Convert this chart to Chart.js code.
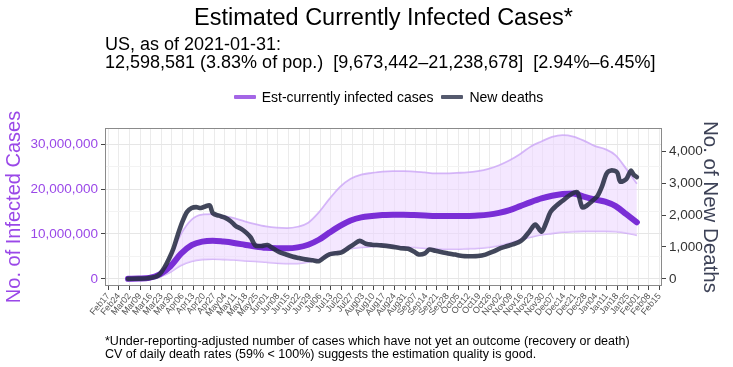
<!DOCTYPE html>
<html>
<head>
<meta charset="utf-8">
<script src="https://cdn.jsdelivr.net/npm/chart.js"></script>
<style>
  html, body { margin: 0; padding: 0; background: #fff; }
  body { width: 733px; height: 367px; position: relative; overflow: hidden; font-family: "Liberation Sans", Arial, sans-serif; color: #000; }
  #chart { position: absolute; left: 0; top: 0; }
  .txt { position: absolute; white-space: pre; }
  #title { left: 0; width: 767px; top: 4px; text-align: center; font-size: 23.5px; line-height: 26px; }
  #sub { left: 105px; top: 35px; font-size: 18px; line-height: 18px; }
  #legend { left: 0; width: 777px; top: 89px; text-align: center; font-size: 14px; line-height: 16px; }
  #legend .key { display: inline-block; width: 22px; height: 4px; vertical-align: middle; margin: 0 6px 2px 0; border-radius: 1px; }
  #foot { left: 105px; top: 335px; font-size: 12.5px; line-height: 13px; }
</style>
</head>
<body>
<canvas id="chart" width="733" height="367"></canvas>
<div class="txt" id="title">Estimated Currently Infected Cases*</div>
<div class="txt" id="sub">US, as of 2021-01-31:
12,598,581 (3.83% of pop.)  [9,673,442–21,238,678]  [2.94%–6.45%]</div>
<div class="txt" id="legend"><span class="key" style="background:#a466e6"></span>Est-currently infected cases  <span class="key" style="background:#555a6e"></span>New deaths</div>
<div class="txt" id="foot">*Under-reporting-adjusted number of cases which have not yet an outcome (recovery or death)
CV of daily death rates (59% &lt; 100%) suggests the estimation quality is good.</div>
<script>
// weekly tick labels, Feb17 2020 .. Feb15 2021
const weekLabels = ['Feb17','Feb24','Mar02','Mar09','Mar16','Mar23','Mar30','Apr06','Apr13','Apr20','Apr27',
  'May04','May11','May18','May25','Jun01','Jun08','Jun15','Jun22','Jun29','Jul06','Jul13','Jul20','Jul27',
  'Aug03','Aug10','Aug17','Aug24','Aug31','Sep07','Sep14','Sep21','Sep28','Oct05','Oct12','Oct19','Oct26',
  'Nov02','Nov09','Nov16','Nov23','Nov30','Dec07','Dec14','Dec21','Dec28','Jan04','Jan11','Jan18','Jan25',
  'Feb01','Feb08','Feb15'];

// estimated currently infected (millions), weekly
const estDates = ['2020-03-01','2020-03-08','2020-03-15','2020-03-22','2020-03-29','2020-04-05','2020-04-12','2020-04-19','2020-04-26',
  '2020-05-03','2020-05-10','2020-05-17','2020-05-24','2020-05-31','2020-06-07','2020-06-14','2020-06-21','2020-06-28',
  '2020-07-05','2020-07-12','2020-07-19','2020-07-26','2020-08-02','2020-08-09','2020-08-16','2020-08-23','2020-08-30',
  '2020-09-06','2020-09-13','2020-09-20','2020-09-27','2020-10-04','2020-10-11','2020-10-18','2020-10-25',
  '2020-11-01','2020-11-08','2020-11-15','2020-11-22','2020-11-29','2020-12-06','2020-12-13','2020-12-20','2020-12-27',
  '2021-01-03','2021-01-10','2021-01-17','2021-01-24','2021-01-31'];
const estCases = [0, 0.05, 0.2, 1.0, 2.8, 5.6, 7.5, 8.3, 8.5,
  8.3, 8.0, 7.6, 7.2, 6.9, 6.8, 6.8, 7.0, 7.6,
  8.7, 10.3, 11.8, 13.0, 13.7, 14.0, 14.2, 14.3, 14.3,
  14.2, 14.1, 14.0, 14.0, 14.0, 14.0, 14.1, 14.3,
  14.7, 15.3, 16.2, 17.1, 17.9, 18.5, 18.9, 19.0, 18.3,
  17.7, 17.2, 16.2, 14.4, 12.6];
const estLower = [0, 0.02, 0.1, 0.5, 1.5, 3.0, 3.9, 4.3, 4.4,
  4.3, 4.2, 4.0, 3.9, 3.7, 3.5, 3.4, 3.4, 3.7,
  4.3, 5.2, 6.0, 6.7, 7.0, 7.2, 7.3, 7.2, 7.1,
  7.0, 6.8, 6.7, 6.6, 6.6, 6.7, 6.8, 7.0,
  7.4, 8.0, 8.7, 9.3, 9.8, 10.1, 10.4, 10.5, 10.6,
  10.6, 10.6, 10.5, 10.2, 9.7];
const estUpper = [0, 0.05, 0.3, 1.5, 5.0, 10.0, 13.2, 14.3, 14.4,
  14.0, 13.5, 12.8, 12.2, 11.7, 11.4, 11.3, 11.6, 12.5,
  14.8, 17.8, 20.5, 22.3, 23.2, 23.6, 23.9, 24.0, 24.0,
  23.9, 23.7, 23.5, 23.5, 23.6, 23.7, 24.0, 24.5,
  25.3, 26.4, 27.8, 29.5, 30.6, 31.6, 32.0, 31.7, 30.8,
  29.6, 28.9, 27.5, 24.5, 21.2];

// new deaths (daily, smoothed)
const deathDates = ['2020-03-01','2020-03-08','2020-03-14','2020-03-19','2020-03-22','2020-03-25','2020-03-28','2020-03-31',
  '2020-04-03','2020-04-06','2020-04-09','2020-04-12','2020-04-15','2020-04-18','2020-04-21','2020-04-24','2020-04-26','2020-04-30',
  '2020-05-04','2020-05-08','2020-05-11','2020-05-15','2020-05-18','2020-05-21','2020-05-24','2020-05-28',
  '2020-06-01','2020-06-05','2020-06-09','2020-06-13','2020-06-18','2020-06-22','2020-06-26',
  '2020-07-01','2020-07-05','2020-07-08','2020-07-12','2020-07-16','2020-07-20','2020-07-24','2020-07-28',
  '2020-08-01','2020-08-05','2020-08-09','2020-08-15','2020-08-22','2020-08-28',
  '2020-09-02','2020-09-06','2020-09-09','2020-09-13','2020-09-16','2020-09-20','2020-09-27',
  '2020-10-03','2020-10-08','2020-10-13','2020-10-18','2020-10-23','2020-10-28',
  '2020-11-02','2020-11-06','2020-11-10','2020-11-14','2020-11-17','2020-11-21','2020-11-25','2020-11-29',
  '2020-12-02','2020-12-05','2020-12-09','2020-12-13','2020-12-17','2020-12-21','2020-12-23','2020-12-26','2020-12-29',
  '2021-01-01','2021-01-05','2021-01-08','2021-01-11','2021-01-14','2021-01-18','2021-01-20','2021-01-24','2021-01-27','2021-01-29','2021-01-31'];
const deaths = [0, 5, 20, 60, 150, 350, 620, 950,
  1400, 1800, 2100, 2220, 2250, 2220, 2270, 2300, 2060, 1980,
  1920, 1800, 1660, 1560, 1450, 1300, 1050, 1030,
  1060, 950, 840, 770, 690, 650, 610,
  580, 555, 650, 770, 800, 830, 950, 1080,
  1190, 1100, 1070, 1050, 1010, 960,
  945, 850, 765, 800, 920, 880, 810,
  760, 715, 710, 715, 760, 850,
  960, 1020, 1080, 1150, 1250, 1480, 1700, 1480,
  1750, 2100, 2300, 2450, 2600, 2710, 2700, 2240, 2300,
  2420, 2600, 2900, 3300, 3400, 3340, 3050, 3130, 3390, 3260, 3190];

const DAY0 = Date.UTC(2020, 1, 17);
const toDay = (s) => {
  const p = s.split('-').map(Number);
  return (Date.UTC(p[0], p[1] - 1, p[2]) - DAY0) / 864e5;
};
const pts = (dates, vals, k) => dates.map((d, i) => ({ x: toDay(d), y: vals[i] * k }));

const purple = '#9a48e8';
const slate = '#3d4257';
const font = 'Liberation Sans';

const panelBorder = {
  id: 'panelBorder',
  afterDraw(chart) {
    const a = chart.chartArea, c = chart.ctx;
    c.save();
    c.strokeStyle = '#8a8a8a';
    c.lineWidth = 1;
    c.strokeRect(a.left + 0.5, a.top + 0.5, a.right - a.left - 1, a.bottom - a.top - 1);
    c.restore();
  }
};

new Chart(document.getElementById('chart'), {
  type: 'line',
  data: {
    datasets: [
      {
        label: 'New deaths',
        data: pts(deathDates, deaths, 1),
        yAxisID: 'y2',
        borderColor: 'rgba(40,45,68,0.88)',
        borderWidth: 4.6,
        borderCapStyle: 'round',
        borderJoinStyle: 'round',
        tension: 0.3,
        pointRadius: 0,
        order: 0
      },
      {
        label: 'Est-currently infected cases',
        data: pts(estDates, estCases, 1e6),
        yAxisID: 'y',
        borderColor: '#7a2ed6',
        borderWidth: 6,
        borderCapStyle: 'round',
        cubicInterpolationMode: 'monotone',
        pointRadius: 0,
        order: 1
      },
      {
        label: 'upper',
        data: pts(estDates, estUpper, 1e6),
        yAxisID: 'y',
        borderColor: 'rgba(200,160,245,0.75)',
        borderWidth: 1.8,
        backgroundColor: 'rgba(236,215,255,0.6)',
        fill: '+1',
        cubicInterpolationMode: 'monotone',
        pointRadius: 0,
        order: 2
      },
      {
        label: 'lower',
        data: pts(estDates, estLower, 1e6),
        yAxisID: 'y',
        borderColor: 'rgba(200,160,245,0.75)',
        borderWidth: 1.8,
        fill: false,
        cubicInterpolationMode: 'monotone',
        pointRadius: 0,
        order: 2
      }
    ]
  },
  options: {
    responsive: false,
    animation: false,
    layout: { padding: { top: 128, left: 0, right: 0, bottom: 0 } },
    plugins: { legend: { display: false }, tooltip: { enabled: false } },
    scales: {
      x: {
        type: 'linear',
        min: -2.2,
        max: 365.6,
        afterFit(s) { s.height = 81; },
        afterBuildTicks(s) { s.ticks = weekLabels.map((_, i) => ({ value: i * 7 })); },
        grid: { color: '#ebebeb', lineWidth: 1, tickColor: '#444', tickLength: 4, drawTicks: true },
        border: { display: false },
        ticks: {
          autoSkip: false,
          minRotation: 50,
          maxRotation: 50,
          padding: 1,
          color: '#555',
          font: { family: font, size: 9 },
          callback: (v, i) => weekLabels[i]
        }
      },
      y: {
        position: 'left',
        min: -1.6e6,
        max: 33.6e6,
        afterFit(s) { s.width = 105; },
        afterBuildTicks(s) { s.ticks = [0, 5e6, 10e6, 15e6, 20e6, 25e6, 30e6].map(v => ({ value: v })); },
        grid: {
          color: (c) => (c.tick && c.tick.value % 10e6 === 0) ? '#e6e6e6' : '#f3f3f3',
          tickColor: (c) => (c.tick && c.tick.value % 10e6 === 0) ? '#444' : 'rgba(0,0,0,0)',
          tickLength: 4
        },
        border: { display: false },
        ticks: {
          color: purple,
          padding: 3,
          font: { family: font, size: 13.5 },
          callback: (v) => v % 10e6 === 0 ? v.toLocaleString('en-US') : ''
        },
        title: {
          display: true,
          text: 'No. of Infected Cases',
          color: purple,
          font: { family: font, size: 20 },
          padding: { top: 2, bottom: 0 }
        }
      },
      y2: {
        position: 'right',
        min: -225,
        max: 4731,
        afterFit(s) { s.width = 71; },
        afterBuildTicks(s) { s.ticks = [0, 1000, 2000, 3000, 4000].map(v => ({ value: v })); },
        grid: { drawOnChartArea: false, tickColor: '#444', tickLength: 4 },
        border: { display: false },
        ticks: {
          color: '#333',
          padding: 3,
          font: { family: font, size: 13.5 },
          callback: (v) => v.toLocaleString('en-US')
        },
        title: {
          display: true,
          text: 'No. of New Deaths',
          color: slate,
          font: { family: font, size: 20.5 },
          padding: { top: 11, bottom: 0 }
        }
      }
    }
  },
  plugins: [panelBorder]
});
</script>
</body>
</html>
